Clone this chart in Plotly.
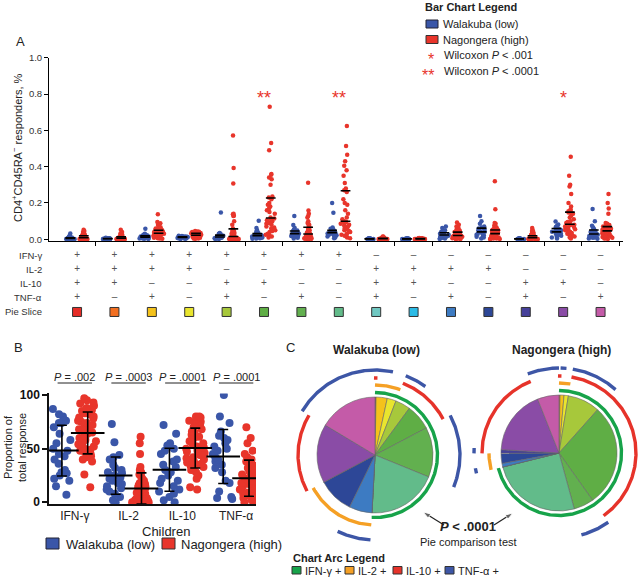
import numpy as np
import plotly.graph_objects as go

W, H = 640, 581
FONT = "Liberation Sans, Arial, sans-serif"
BLUE = "#3a56a8"
RED = "#e8352b"


def px(x):
    return x / W


def py(y):
    return 1 - y / H


# ---------------- DATA ----------------
ROW_LABELS = ["IFN-γ", "IL-2", "IL-10", "TNF-α", "Pie Slice"]
IFN_SIGN = "++++++++-------"
IL2_SIGN = "++++----++++---"
IL10_SIGN = "++--++--++--++-"
TNF_SIGN = "+-+-+-+-+-+-+-+"
SLICE_COLORS = ["#e52d27", "#f26f21", "#f4c21b", "#e9e52e", "#a7c83b", "#5fae45",
                "#62b04f", "#62bb8a", "#70c8c2", "#2bbbe6", "#3d7bc2", "#2d4797",
                "#46409a", "#8a4ca6", "#c45ba8"]

A_WALAKUBA = [
    [0.032, 0.02, 0.015, 0.012, 0.01, 0.008, 0.007, 0.006, 0.005, 0.005, 0.004, 0.004, 0.003, 0.003, 0.003, 0.002, 0.002, 0.002, 0.001, 0.001],
    [0.008, 0.006, 0.005, 0.005, 0.004, 0.004, 0.004, 0.003, 0.003, 0.003, 0.003, 0.002, 0.002, 0.002, 0.002, 0.002, 0.001, 0.001, 0.001, 0.001],
    [0.058, 0.03, 0.025, 0.022, 0.02, 0.018, 0.016, 0.015, 0.014, 0.012, 0.012, 0.01, 0.01, 0.008, 0.008, 0.006, 0.005, 0.004, 0.003, 0.002],
    [0.02, 0.018, 0.016, 0.015, 0.014, 0.013, 0.012, 0.012, 0.011, 0.01, 0.01, 0.009, 0.008, 0.008, 0.007, 0.006, 0.005, 0.004, 0.003, 0.002],
    [0.148, 0.035, 0.03, 0.028, 0.025, 0.022, 0.02, 0.018, 0.015, 0.013, 0.012, 0.01, 0.009, 0.008, 0.007, 0.006, 0.005, 0.004, 0.003, 0.002],
    [0.102, 0.062, 0.05, 0.04, 0.035, 0.03, 0.028, 0.025, 0.022, 0.02, 0.02, 0.018, 0.016, 0.015, 0.012, 0.01, 0.008, 0.006, 0.004, 0.003],
    [0.128, 0.078, 0.062, 0.052, 0.048, 0.045, 0.04, 0.038, 0.035, 0.032, 0.03, 0.028, 0.025, 0.022, 0.02, 0.018, 0.015, 0.012, 0.008, 0.005],
    [0.2, 0.146, 0.065, 0.058, 0.052, 0.048, 0.045, 0.042, 0.04, 0.038, 0.035, 0.032, 0.03, 0.028, 0.025, 0.022, 0.02, 0.015, 0.01, 0.006],
    [0.005, 0.004, 0.004, 0.003, 0.003, 0.003, 0.003, 0.002, 0.002, 0.002, 0.002, 0.002, 0.002, 0.001, 0.001, 0.001, 0.001, 0.001, 0.001, 0.001],
    [0.004, 0.004, 0.003, 0.003, 0.003, 0.003, 0.002, 0.002, 0.002, 0.002, 0.002, 0.002, 0.002, 0.001, 0.001, 0.001, 0.001, 0.001, 0.001, 0.001],
    [0.07, 0.062, 0.05, 0.045, 0.04, 0.035, 0.032, 0.03, 0.028, 0.025, 0.022, 0.02, 0.018, 0.015, 0.012, 0.01, 0.008, 0.006, 0.004, 0.002],
    [0.128, 0.1, 0.085, 0.07, 0.065, 0.06, 0.055, 0.05, 0.045, 0.042, 0.04, 0.035, 0.03, 0.028, 0.025, 0.022, 0.018, 0.014, 0.01, 0.005],
    [0.005, 0.004, 0.004, 0.003, 0.003, 0.003, 0.003, 0.003, 0.002, 0.002, 0.002, 0.002, 0.002, 0.002, 0.001, 0.001, 0.001, 0.001, 0.001, 0.001],
    [0.098, 0.082, 0.075, 0.068, 0.062, 0.058, 0.055, 0.05, 0.046, 0.042, 0.04, 0.036, 0.033, 0.03, 0.028, 0.025, 0.02, 0.015, 0.01, 0.005],
    [0.167, 0.1, 0.075, 0.065, 0.055, 0.05, 0.045, 0.04, 0.035, 0.03, 0.028, 0.025, 0.02, 0.018, 0.015, 0.012, 0.01, 0.008, 0.005, 0.003],
]

A_NAGONGERA = [
    [0.052, 0.045, 0.04, 0.035, 0.03, 0.028, 0.025, 0.022, 0.02, 0.02, 0.018, 0.016, 0.015, 0.014, 0.012, 0.012, 0.01, 0.01, 0.009, 0.008, 0.008, 0.007, 0.006, 0.006, 0.005, 0.005, 0.004, 0.004, 0.004, 0.003, 0.003, 0.003, 0.002, 0.002, 0.002, 0.001, 0.001, 0.001],
    [0.053, 0.04, 0.032, 0.026, 0.022, 0.02, 0.018, 0.016, 0.015, 0.014, 0.012, 0.011, 0.01, 0.01, 0.009, 0.008, 0.008, 0.007, 0.006, 0.006, 0.005, 0.005, 0.005, 0.004, 0.004, 0.004, 0.003, 0.003, 0.003, 0.003, 0.002, 0.002, 0.002, 0.002, 0.001, 0.001, 0.001, 0.001],
    [0.138, 0.095, 0.088, 0.078, 0.07, 0.066, 0.06, 0.056, 0.052, 0.05, 0.048, 0.045, 0.042, 0.04, 0.04, 0.038, 0.036, 0.035, 0.034, 0.032, 0.03, 0.03, 0.028, 0.026, 0.025, 0.024, 0.022, 0.02, 0.02, 0.018, 0.016, 0.015, 0.012, 0.01, 0.008, 0.006, 0.004, 0.003],
    [0.045, 0.043, 0.042, 0.04, 0.04, 0.038, 0.036, 0.035, 0.034, 0.033, 0.032, 0.03, 0.03, 0.028, 0.027, 0.026, 0.025, 0.024, 0.023, 0.022, 0.021, 0.02, 0.02, 0.018, 0.017, 0.016, 0.015, 0.014, 0.013, 0.012, 0.011, 0.01, 0.009, 0.008, 0.006, 0.005, 0.004, 0.003],
    [0.572, 0.392, 0.307, 0.14, 0.138, 0.13, 0.128, 0.1, 0.08, 0.06, 0.05, 0.045, 0.04, 0.035, 0.03, 0.028, 0.025, 0.02, 0.016, 0.014, 0.012, 0.01, 0.009, 0.008, 0.007, 0.006, 0.005, 0.005, 0.004, 0.004, 0.003, 0.003, 0.002, 0.002, 0.002, 0.001, 0.001, 0.001],
    [0.73, 0.53, 0.49, 0.36, 0.355, 0.34, 0.33, 0.3, 0.235, 0.23, 0.22, 0.2, 0.19, 0.18, 0.17, 0.16, 0.15, 0.14, 0.12, 0.115, 0.11, 0.105, 0.1, 0.095, 0.09, 0.085, 0.08, 0.07, 0.065, 0.06, 0.05, 0.045, 0.04, 0.03, 0.025, 0.02, 0.015, 0.01],
    [0.312, 0.158, 0.14, 0.128, 0.12, 0.1, 0.09, 0.082, 0.075, 0.068, 0.06, 0.055, 0.05, 0.045, 0.042, 0.04, 0.036, 0.033, 0.03, 0.028, 0.025, 0.022, 0.02, 0.018, 0.016, 0.014, 0.012, 0.01, 0.009, 0.008, 0.007, 0.006, 0.005, 0.004, 0.003, 0.003, 0.002, 0.002],
    [0.624, 0.514, 0.465, 0.43, 0.405, 0.38, 0.35, 0.31, 0.28, 0.27, 0.26, 0.22, 0.2, 0.19, 0.16, 0.14, 0.12, 0.11, 0.1, 0.098, 0.095, 0.09, 0.085, 0.08, 0.075, 0.07, 0.065, 0.06, 0.055, 0.05, 0.045, 0.04, 0.03, 0.025, 0.02, 0.015, 0.01, 0.006],
    [0.016, 0.014, 0.012, 0.01, 0.009, 0.008, 0.008, 0.007, 0.006, 0.006, 0.005, 0.005, 0.005, 0.004, 0.004, 0.004, 0.004, 0.003, 0.003, 0.003, 0.003, 0.003, 0.002, 0.002, 0.002, 0.002, 0.002, 0.002, 0.002, 0.001, 0.001, 0.001, 0.001, 0.001, 0.001, 0.001, 0.001, 0.001],
    [0.007, 0.006, 0.006, 0.005, 0.005, 0.005, 0.004, 0.004, 0.004, 0.004, 0.004, 0.003, 0.003, 0.003, 0.003, 0.003, 0.003, 0.003, 0.002, 0.002, 0.002, 0.002, 0.002, 0.002, 0.002, 0.002, 0.002, 0.001, 0.001, 0.001, 0.001, 0.001, 0.001, 0.001, 0.001, 0.001, 0.001, 0.001],
    [0.092, 0.08, 0.07, 0.062, 0.055, 0.05, 0.048, 0.045, 0.042, 0.04, 0.038, 0.035, 0.032, 0.03, 0.028, 0.026, 0.025, 0.024, 0.022, 0.02, 0.02, 0.018, 0.016, 0.015, 0.014, 0.012, 0.012, 0.01, 0.01, 0.009, 0.008, 0.007, 0.006, 0.005, 0.004, 0.003, 0.002, 0.001],
    [0.32, 0.165, 0.09, 0.085, 0.075, 0.07, 0.065, 0.06, 0.055, 0.052, 0.05, 0.048, 0.045, 0.042, 0.04, 0.038, 0.036, 0.034, 0.032, 0.03, 0.028, 0.026, 0.024, 0.022, 0.02, 0.018, 0.016, 0.014, 0.012, 0.01, 0.009, 0.008, 0.006, 0.005, 0.004, 0.003, 0.002, 0.001],
    [0.062, 0.05, 0.045, 0.04, 0.035, 0.03, 0.028, 0.025, 0.022, 0.02, 0.018, 0.016, 0.015, 0.014, 0.012, 0.011, 0.01, 0.01, 0.009, 0.008, 0.008, 0.007, 0.006, 0.006, 0.005, 0.005, 0.004, 0.004, 0.004, 0.003, 0.003, 0.003, 0.002, 0.002, 0.002, 0.001, 0.001, 0.001],
    [0.455, 0.35, 0.3, 0.29, 0.25, 0.2, 0.18, 0.165, 0.155, 0.15, 0.148, 0.14, 0.13, 0.12, 0.11, 0.1, 0.095, 0.09, 0.085, 0.08, 0.078, 0.075, 0.07, 0.068, 0.065, 0.06, 0.058, 0.055, 0.05, 0.045, 0.04, 0.035, 0.03, 0.025, 0.02, 0.015, 0.01, 0.005],
    [0.25, 0.2, 0.17, 0.14, 0.09, 0.085, 0.08, 0.078, 0.075, 0.07, 0.068, 0.065, 0.062, 0.06, 0.058, 0.055, 0.052, 0.05, 0.048, 0.045, 0.042, 0.04, 0.038, 0.035, 0.032, 0.03, 0.028, 0.025, 0.022, 0.02, 0.018, 0.015, 0.012, 0.01, 0.008, 0.006, 0.004, 0.002],
]

STAR_CATS = [5, 7, 13]
STAR_TEXT = ["**", "**", "*"]
STAR_LEVEL = 0.8

B_CYTOKINES = ["IFN-γ", "IL-2", "IL-10", "TNF-α"]
B_PVALUES = [".002", ".0003", ".0001", ".0001"]
B_WAL_IFN = [87, 82, 80, 76, 74, 74, 70, 64, 58, 55, 50, 48, 45, 43, 40, 36, 30, 28, 27, 25, 22, 20, 15, 7]
B_NAG_IFN = [97, 95, 93, 92, 90, 88, 86, 85, 83, 82, 80, 79, 78, 76, 75, 74, 72, 71, 70, 68, 67, 66, 65, 64, 62,
             60, 58, 57, 55, 54, 52, 50, 49, 48, 47, 45, 44, 43, 42, 40, 38, 26, 14]
B_WAL_IL2 = [73, 56, 44, 42, 40, 35, 32, 30, 28, 27, 25, 23, 22, 20, 18, 17, 15, 13, 12, 10, 8, 5, 2, 0]
B_NAG_IL2 = [61, 55, 45, 33, 30, 28, 26, 24, 22, 20, 18, 17, 16, 15, 14, 13, 12, 11, 10, 10, 9, 8, 8, 7, 6,
             6, 5, 5, 4, 4, 3, 3, 2, 2, 2, 1, 1, 1, 0, 0, 0, 0, 0]
B_WAL_IL10 = [72, 64, 55, 53, 50, 48, 45, 40, 38, 35, 33, 30, 28, 25, 22, 20, 18, 15, 12, 10, 8, 5, 2, 0]
B_NAG_IL10 = [80, 80, 79, 78, 76, 75, 74, 72, 70, 68, 66, 65, 63, 61, 60, 58, 57, 55, 54, 52, 51, 50, 48, 47, 46,
              45, 44, 42, 41, 40, 38, 37, 36, 35, 34, 33, 32, 30, 28, 25, 22, 14, 12]
B_WAL_TNF = [100, 80, 74, 66, 62, 60, 58, 55, 52, 50, 48, 45, 42, 40, 38, 35, 32, 28, 20, 18, 10, 5, 4, 3]
B_NAG_TNF = [70, 60, 55, 48, 45, 42, 40, 38, 36, 34, 32, 30, 29, 28, 27, 26, 25, 24, 23, 22, 21, 20, 19, 18, 17,
             16, 15, 14, 13, 12, 11, 10, 9, 8, 7, 6, 5, 4, 3, 2, 1, 0, 0]

PIE_WALAKUBA = [0.3, 0, 3.1, 2.5, 4.2, 7.2, 13.9, 19.7, 0, 0, 6.4, 10.0, 0, 16.4, 16.4]
PIE_NAGONGERA = [0, 0.3, 1.1, 1.2, 9.0, 28.6, 5.6, 25.4, 0, 0, 1.0, 2.8, 1.0, 18.1, 6.0]
ARC_CYTOKINES = ["IFN-γ +", "IL-2 +", "IL-10 +", "TNF-α +"]
ARC_COLORS = ["#17a34a", "#f5a025", "#e6332a", "#3d56a6"]

# ---------------- FIGURE ----------------
fig = go.Figure()
n_cat = len(A_WALAKUBA)
cats = np.arange(n_cat)
OFF_A = 0.18

for groups, sign, color in [(A_WALAKUBA, -1, BLUE), (A_NAGONGERA, 1, RED)]:
    bx = np.concatenate([np.full(len(v), i + sign * OFF_A) for i, v in enumerate(groups)])
    by = np.concatenate([np.asarray(v, float) for v in groups])
    fig.add_trace(go.Box(x=bx, y=by, xaxis="x", yaxis="y", boxpoints="all", jitter=1, pointpos=0,
                         width=0.3, line=dict(width=0, color="rgba(0,0,0,0)"), fillcolor="rgba(0,0,0,0)",
                         marker=dict(color=color, size=4.5), showlegend=False, hoverinfo="y"))

# median & upper quartile dashes
dx, dy = [], []
for groups, sign in [(A_WALAKUBA, -1), (A_NAGONGERA, 1)]:
    for i, v in enumerate(groups):
        c = i + sign * OFF_A
        for q in np.percentile(v, [50, 75]):
            dx += [c - 0.13, c + 0.13, None]
            dy += [q, q, None]
fig.add_trace(go.Scatter(x=dx, y=dy, xaxis="x", yaxis="y", mode="lines",
                         line=dict(color="black", width=1.6), showlegend=False, hoverinfo="skip"))

# table below panel A
signs = [IFN_SIGN, IL2_SIGN, IL10_SIGN, TNF_SIGN]
for r, s in enumerate(signs):
    fig.add_trace(go.Scatter(x=cats, y=[r] * n_cat, xaxis="x", yaxis="y2", mode="text",
                             text=["+" if ch == "+" else "–" for ch in s],
                             textfont=dict(family=FONT, size=10, color="#555"),
                             showlegend=False, hoverinfo="skip"))
fig.add_trace(go.Scatter(x=cats, y=[4] * n_cat, xaxis="x", yaxis="y2", mode="markers",
                         marker=dict(symbol="square", size=9, color=SLICE_COLORS,
                                     line=dict(color="#333", width=1)),
                         showlegend=False, hoverinfo="skip"))

# ---------------- PANEL B ----------------
OFF_B = 0.24
b_wal = [B_WAL_IFN, B_WAL_IL2, B_WAL_IL10, B_WAL_TNF]
b_nag = [B_NAG_IFN, B_NAG_IL2, B_NAG_IL10, B_NAG_TNF]
for groups, sign, color in [(b_wal, -1, BLUE), (b_nag, 1, RED)]:
    bx = np.concatenate([np.full(len(v), i + sign * OFF_B) for i, v in enumerate(groups)])
    by = np.concatenate([np.asarray(v, float) for v in groups])
    fig.add_trace(go.Box(x=bx, y=by, xaxis="x3", yaxis="y3", boxpoints="all", jitter=1, pointpos=0,
                         width=0.4, line=dict(width=0, color="rgba(0,0,0,0)"), fillcolor="rgba(0,0,0,0)",
                         marker=dict(color=color, size=8), showlegend=False, hoverinfo="y"))
for groups, sign in [(b_wal, -1), (b_nag, 1)]:
    means = [np.mean(v) for v in groups]
    sds = [np.std(v, ddof=1) for v in groups]
    fig.add_trace(go.Scatter(x=np.arange(4) + sign * OFF_B, y=means, xaxis="x3", yaxis="y3", mode="markers",
                             marker=dict(symbol="line-ew", size=24, color="black",
                                         line=dict(color="black", width=2)),
                             error_y=dict(type="data", array=sds, color="black", thickness=1.6, width=5),
                             showlegend=False, hoverinfo="skip"))

# ---------------- PANEL C ----------------
PIES = [
    (PIE_WALAKUBA, 375, 455, 58),
    (PIE_NAGONGERA, 559, 453, 58),
]
for vals, cx, cy, r in PIES:
    fig.add_trace(go.Pie(values=vals, sort=False, direction="clockwise", rotation=0,
                         marker=dict(colors=SLICE_COLORS, line=dict(color="#666", width=0.6)),
                         textinfo="none", hoverinfo="skip", showlegend=False,
                         domain=dict(x=[px(cx - r), px(cx + r)], y=[py(cy + r), py(cy - r)])))

ARC_RADII = [62.5, 70, 77, 85]
for vals, cx, cy, r in PIES:
    tot = float(sum(vals))
    edges = np.concatenate([[0], np.cumsum(vals)]) / tot * 360.0
    for k, s in enumerate(signs):
        items = [(edges[i], edges[i + 1], s[i] == "+") for i in range(n_cat) if vals[i] > 0]
        runs = []
        for a0, a1, pos in items:
            if pos:
                if runs and runs[-1][2]:
                    runs[-1][1] = a1
                else:
                    runs.append([a0, a1, True])
            else:
                runs.append([a0, a1, False])
        runs = [ru for ru in runs if ru[2]]
        if len(runs) > 1 and items[0][2] and items[-1][2]:
            runs[0][0] = runs[-1][0] - 360.0
            runs = runs[:-1]
        ax_, ay_ = [], []
        R = ARC_RADII[k]
        for a0, a1, _ in runs:
            if a1 - a0 < 2.6:
                mid = (a0 + a1) / 2
                a0, a1 = mid - 1.3, mid + 1.3
            t = np.radians(np.linspace(a0, a1, max(int((a1 - a0) * 2), 4)))
            ax_ += list(cx + R * np.sin(t)) + [None]
            ay_ += list(cy - R * np.cos(t)) + [None]
        fig.add_trace(go.Scatter(x=ax_, y=ay_, xaxis="x4", yaxis="y4", mode="lines",
                                 line=dict(color=ARC_COLORS[k], width=3.4), showlegend=False,
                                 hoverinfo="skip"))

# comparison arrows
for (tx, ty, hx, hy) in [(444, 525, 423, 512), (494, 525, 513, 513)]:
    fig.add_trace(go.Scatter(x=[tx, hx], y=[ty, hy], xaxis="x4", yaxis="y4", mode="lines+markers",
                             line=dict(color="#222", width=1.2),
                             marker=dict(symbol=["circle", "arrow"], size=[0, 8], angleref="previous",
                                         color="#222"),
                             showlegend=False, hoverinfo="skip"))

# ---------------- ANNOTATIONS ----------------
ann = []


def txt(text, x, y, size=11, color="#222", xanchor="center", yanchor="middle", angle=0):
    ann.append(dict(text=text, x=px(x), y=py(y), xref="paper", yref="paper", showarrow=False,
                    font=dict(family=FONT, size=size, color=color), xanchor=xanchor,
                    yanchor=yanchor, textangle=angle))


txt("A", 20, 41, 13)
txt("B", 18, 347, 13)
txt("C", 290, 347, 13)
txt("CD4<sup>+</sup>CD45RA<sup>−</sup> responders, %", 17, 148, 11, angle=-90)

txt("<b>Bar Chart Legend</b>", 423, 7, 11, xanchor="left")
txt("Walakuba (low)", 441, 24, 11, xanchor="left")
txt("Nagongera (high)", 441, 39.5, 11, xanchor="left")
txt("Wilcoxon <i>P</i> &lt; .001", 442, 55, 11, xanchor="left")
txt("Wilcoxon <i>P</i> &lt; .0001", 442, 71, 11, xanchor="left")
txt("*", 436, 59, 16, color=RED, xanchor="right")
txt("**", 436, 75, 16, color=RED, xanchor="right")

for c, s in zip(STAR_CATS, STAR_TEXT):
    ann.append(dict(text=s, x=c, y=STAR_LEVEL, xref="x", yref="y", showarrow=False, yshift=-4,
                    font=dict(family=FONT, size=18, color=RED)))

for r, lab in enumerate(ROW_LABELS):
    ann.append(dict(text=lab, x=px(44), y=r, xref="paper", yref="y2", showarrow=False,
                    xanchor="right", font=dict(family=FONT, size=9.5, color="#333")))

txt("Proportion of<br>total response", 15, 448, 11, angle=-90)
txt("Children", 166, 531, 13)
txt("Walakuba (low)", 64, 544, 13, xanchor="left")
txt("Nagongera (high)", 179, 544, 13, xanchor="left")
for i, p in enumerate(B_PVALUES):
    ann.append(dict(text="<i>P</i> = " + p, x=i, y=py(377), xref="x3", yref="paper", showarrow=False,
                    font=dict(family=FONT, size=11, color="#222")))

txt("<b>Walakuba (low)</b>", 376, 350, 12)
txt("<b>Nagongera (high)</b>", 561, 350, 12)
txt("<b><i>P</i> &lt; .0001</b>", 468, 526, 13)
txt("Pie comparison test", 468, 542, 11)
txt("<b>Chart Arc Legend</b>", 291, 558, 11, xanchor="left")
LEG_X = [292, 345, 393, 445]
for lab, x0 in zip(ARC_CYTOKINES, LEG_X):
    txt(lab, x0 + 11, 570.5, 11, xanchor="left")

# ---------------- SHAPES ----------------
shapes = []


def rect(x0, y0, x1, y1, fill, line="#333"):
    shapes.append(dict(type="rect", xref="paper", yref="paper", x0=px(x0), x1=px(x1), y0=py(y1), y1=py(y0),
                       fillcolor=fill, line=dict(color=line, width=1)))


rect(426, 20, 438, 28, BLUE, "#223")
rect(426, 35.5, 438, 43.5, RED, "#333")
rect(46, 538, 59, 549, BLUE, "#223")
rect(162, 538, 175, 549, RED, "#333")
for col, x0 in zip(ARC_COLORS, LEG_X):
    rect(x0, 566.5, x0 + 9, 574, col, "#333")
for i in range(4):
    shapes.append(dict(type="line", xref="x3", yref="paper", x0=i - 0.32, x1=i + 0.32, y0=py(383), y1=py(383),
                       line=dict(color="#222", width=1)))

# ---------------- LAYOUT ----------------
AX = dict(automargin=False, showgrid=False, zeroline=False)
fig.update_layout(
    template="none",
    width=W, height=H, margin=dict(l=0, r=0, t=0, b=0, pad=0, autoexpand=False),
    paper_bgcolor="white", plot_bgcolor="rgba(0,0,0,0)",
    boxmode="overlay", showlegend=False, font=dict(family=FONT, color="#222"),
    annotations=ann, shapes=shapes,
    xaxis=dict(domain=[px(49), px(623)], range=[-0.75, 14.6], anchor="y", showline=True, linecolor="black",
               linewidth=1, tickvals=[i + 0.5 for i in range(n_cat)], ticks="outside", ticklen=4,
               tickcolor="black", showticklabels=False, **AX),
    yaxis=dict(domain=[py(241.1), py(57.7)], range=[-0.01, 1.0], anchor="x", showline=True,
               linecolor="black", linewidth=1, tickvals=[0, 0.2, 0.4, 0.6, 0.8, 1.0], tickformat=".1f",
               ticks="outside", ticklen=4, tickcolor="black",
               tickfont=dict(family=FONT, size=9.5, color="#333"), **AX),
    yaxis2=dict(domain=[py(319.1), py(247.9)], range=[4.5, -0.5], anchor="x", visible=False, **AX),
    xaxis3=dict(domain=[px(49), px(256)], range=[-0.48, 3.37], anchor="y3", showline=True, linecolor="#111",
                linewidth=1.5, tickvals=[0, 1, 2, 3], ticktext=B_CYTOKINES, ticks="",
                tickfont=dict(family=FONT, size=12, color="#222"), **AX),
    yaxis3=dict(domain=[py(503.9), py(393.4)], range=[-1.5, 101.5], anchor="x3", showline=True,
                linecolor="#111", linewidth=1.5, tickvals=[0, 50, 100],
                ticktext=["<b>0</b>", "<b>50</b>", "<b>100</b>"], ticks="outside", ticklen=5,
                tickcolor="#111", tickwidth=1.5,
                tickfont=dict(family=FONT, size=12, color="#111"), **AX),
    xaxis4=dict(domain=[0, 1], range=[0, W], anchor="y4", visible=False, fixedrange=True, **AX),
    yaxis4=dict(domain=[0, 1], range=[H, 0], anchor="x4", visible=False, fixedrange=True, **AX),
)

POST = (
    "document.documentElement.style.margin='0';document.body.style.margin='0';"
    "document.body.style.padding='0';document.body.style.overflow='hidden';"
    "document.documentElement.style.overflow='hidden';"
    "var gd=document.querySelector('.plotly-graph-div');"
    "gd.style.position='absolute';gd.style.top='0px';gd.style.left='0px';"
)
fig.write_html("out.html", config={"displayModeBar": False}, post_script=POST)
